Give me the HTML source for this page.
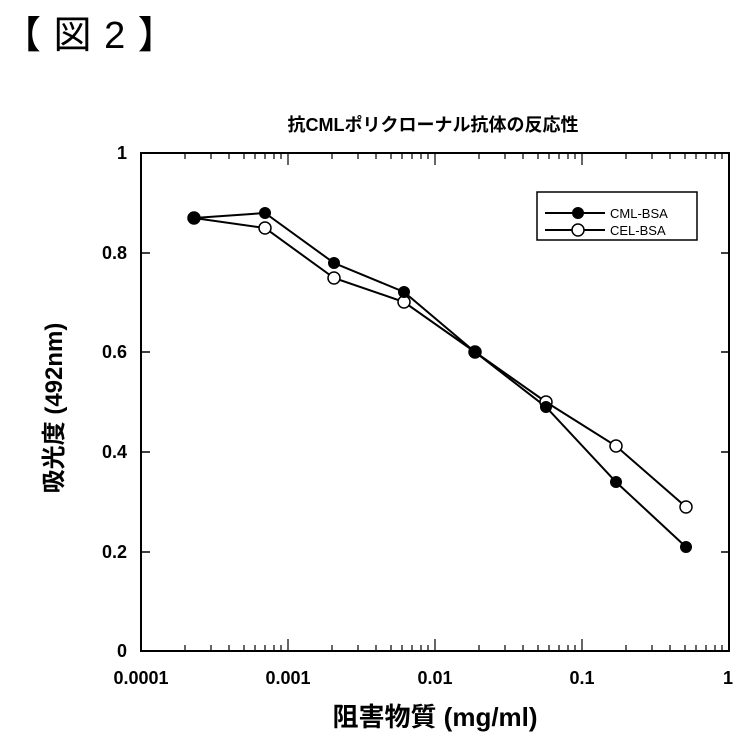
<!DOCTYPE html>
<html><head><meta charset="utf-8"><style>
body{margin:0;background:#fff;width:734px;height:736px;overflow:hidden}
text{font-family:"Liberation Sans","Noto Sans CJK JP",sans-serif;fill:#000}
</style></head><body>
<svg width="734" height="736" viewBox="0 0 734 736">
<text x="3" y="48" font-size="38" font-family="Noto Sans CJK JP" letter-spacing="1">【 図 2 】</text>
<text x="433" y="131" font-size="18" font-weight="bold" text-anchor="middle">抗CMLポリクローナル抗体の反応性</text>
<rect x="141" y="153" width="588" height="498" fill="none" stroke="#000" stroke-width="2"/>
<g stroke="#000" stroke-width="1.5">
<line x1="141" y1="253" x2="150" y2="253"/><line x1="141" y1="352" x2="150" y2="352"/>
<line x1="141" y1="452" x2="150" y2="452"/><line x1="141" y1="552" x2="150" y2="552"/>
<line x1="729" y1="253" x2="721" y2="253"/><line x1="729" y1="352" x2="721" y2="352"/>
<line x1="729" y1="452" x2="721" y2="452"/><line x1="729" y1="552" x2="721" y2="552"/>
</g>
<g stroke="#000" stroke-width="1.2">
<path d="M185 651v-6M211 651v-6M229 651v-6M244 651v-6M255 651v-6M265 651v-6M274 651v-6M281 651v-6M288 651v-12
M332 651v-6M358 651v-6M376 651v-6M391 651v-6M402 651v-6M412 651v-6M421 651v-6M428 651v-6M435 651v-12
M479 651v-6M505 651v-6M523 651v-6M538 651v-6M549 651v-6M559 651v-6M568 651v-6M575 651v-6M582 651v-12
M626 651v-6M652 651v-6M670 651v-6M685 651v-6M696 651v-6M706 651v-6M715 651v-6M722 651v-6
M185 153v6M211 153v6M229 153v6M244 153v6M255 153v6M265 153v6M274 153v6M281 153v6M288 153v12
M332 153v6M358 153v6M376 153v6M391 153v6M402 153v6M412 153v6M421 153v6M428 153v6M435 153v12
M479 153v6M505 153v6M523 153v6M538 153v6M549 153v6M559 153v6M568 153v6M575 153v6M582 153v12
M626 153v6M652 153v6M670 153v6M685 153v6M696 153v6M706 153v6M715 153v6M722 153v6"/>
</g>
<g font-size="18" font-weight="bold" text-anchor="end">
<text x="127" y="159">1</text><text x="127" y="259">0.8</text><text x="127" y="358">0.6</text>
<text x="127" y="458">0.4</text><text x="127" y="558">0.2</text><text x="127" y="657">0</text>
</g>
<g font-size="18" font-weight="bold" text-anchor="middle">
<text x="141" y="684">0.0001</text><text x="288" y="684">0.001</text><text x="435" y="684">0.01</text>
<text x="582" y="684">0.1</text><text x="728" y="684">1</text>
</g>
<text x="435" y="726" font-size="26" font-weight="bold" text-anchor="middle">阻害物質 (mg/ml)</text>
<text transform="translate(62 408) rotate(-90)" font-size="24" font-weight="bold" text-anchor="middle">吸光度 (492nm)</text>
<polyline fill="none" stroke="#000" stroke-width="2" points="194,218 265,228 334,278 404,302 475,352 546,402 616,446 686,507"/>
<polyline fill="none" stroke="#000" stroke-width="2" points="194,218 265,213 334,263 404,292 475,352 546,407 616,482 686,547"/>
<g fill="#fff" stroke="#000" stroke-width="1.5">
<circle cx="194" cy="218" r="6"/><circle cx="265" cy="228" r="6"/><circle cx="334" cy="278" r="6"/><circle cx="404" cy="302" r="6"/><circle cx="475" cy="352" r="6"/><circle cx="546" cy="402" r="6"/><circle cx="616" cy="446" r="6"/><circle cx="686" cy="507" r="6"/>
</g>
<g fill="#000">
<circle cx="194" cy="218" r="6"/><circle cx="265" cy="213" r="6"/><circle cx="334" cy="263" r="6"/><circle cx="404" cy="292" r="6"/><circle cx="475" cy="352" r="6"/><circle cx="546" cy="407" r="6"/><circle cx="616" cy="482" r="6"/><circle cx="686" cy="547" r="6"/>
</g>
<rect x="537" y="192" width="160" height="48" fill="#fff" stroke="#000" stroke-width="1.5"/>
<line x1="545" y1="213" x2="605" y2="213" stroke="#000" stroke-width="2"/>
<circle cx="578" cy="213" r="6" fill="#000"/>
<line x1="545" y1="230" x2="605" y2="230" stroke="#000" stroke-width="2"/>
<circle cx="578" cy="230" r="6" fill="#fff" stroke="#000" stroke-width="1.5"/>
<text x="610" y="218" font-size="13">CML-BSA</text>
<text x="610" y="235" font-size="13">CEL-BSA</text>
</svg>
</body></html>
